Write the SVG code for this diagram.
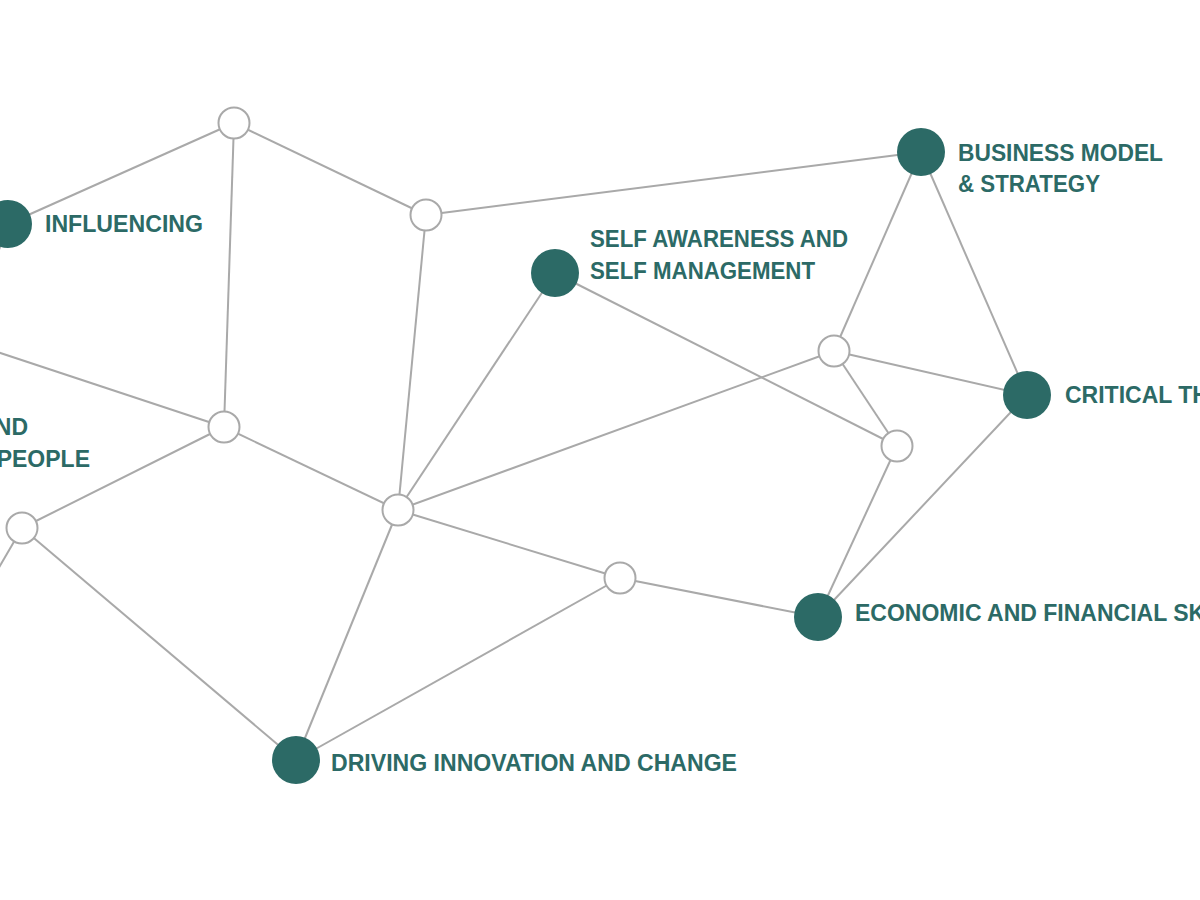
<svg xmlns="http://www.w3.org/2000/svg" width="1200" height="900" viewBox="0 0 1200 900">
<style>
.e{stroke:#a9a9a9;stroke-width:2;fill:none}
.k{fill:#2c6a66}
.h{fill:#ffffff;stroke:#a9a9a9;stroke-width:2}
.t{font-family:"Liberation Sans",Arial,sans-serif;font-weight:700;font-size:23px;fill:#2c6a66}
</style>
<rect width="1200" height="900" fill="#ffffff"/>
<g id="connectors">
<line class="e" x1="8" y1="224" x2="234" y2="123"/>
<line class="e" x1="8" y1="224" x2="-15" y2="290"/>
<line class="e" x1="234" y1="123" x2="224" y2="427"/>
<line class="e" x1="234" y1="123" x2="426" y2="215"/>
<line class="e" x1="426" y1="215" x2="921" y2="152"/>
<line class="e" x1="426" y1="215" x2="398" y2="510"/>
<line class="e" x1="-30" y1="343" x2="224" y2="427"/>
<line class="e" x1="224" y1="427" x2="22" y2="528"/>
<line class="e" x1="224" y1="427" x2="398" y2="510"/>
<line class="e" x1="22" y1="528" x2="-20" y2="600"/>
<line class="e" x1="22" y1="528" x2="296" y2="760"/>
<line class="e" x1="398" y1="510" x2="555" y2="273"/>
<line class="e" x1="398" y1="510" x2="834" y2="351"/>
<line class="e" x1="398" y1="510" x2="620" y2="578"/>
<line class="e" x1="398" y1="510" x2="296" y2="760"/>
<line class="e" x1="620" y1="578" x2="296" y2="760"/>
<line class="e" x1="620" y1="578" x2="818" y2="617"/>
<line class="e" x1="555" y1="273" x2="897" y2="446"/>
<line class="e" x1="834" y1="351" x2="921" y2="152"/>
<line class="e" x1="834" y1="351" x2="1027" y2="395"/>
<line class="e" x1="834" y1="351" x2="897" y2="446"/>
<line class="e" x1="897" y1="446" x2="818" y2="617"/>
<line class="e" x1="921" y1="152" x2="1027" y2="395"/>
<line class="e" x1="1027" y1="395" x2="818" y2="617"/>
</g>
<g id="hub-a"><circle class="h" cx="234" cy="123" r="15.5"/></g>
<g id="hub-b"><circle class="h" cx="426" cy="215" r="15.5"/></g>
<g id="hub-c"><circle class="h" cx="224" cy="427" r="15.5"/></g>
<g id="hub-d"><circle class="h" cx="398" cy="510" r="15.5"/></g>
<g id="hub-e"><circle class="h" cx="22" cy="528" r="15.5"/></g>
<g id="hub-f"><circle class="h" cx="834" cy="351" r="15.5"/></g>
<g id="hub-g"><circle class="h" cx="897" cy="446" r="15.5"/></g>
<g id="hub-h"><circle class="h" cx="620" cy="578" r="15.5"/></g>
<g id="influencing">
<circle class="k" cx="8" cy="224" r="24"/>
<text class="t" x="45" y="232" textLength="158" lengthAdjust="spacingAndGlyphs">INFLUENCING</text>
</g>
<g id="people">
<text class="t" x="28" y="435" text-anchor="end">ND</text>
<text class="t" x="90" y="467" text-anchor="end">PEOPLE</text>
</g>
<g id="business-model">
<circle class="k" cx="921" cy="152" r="24"/>
<text class="t" x="958" y="161" textLength="205" lengthAdjust="spacingAndGlyphs">BUSINESS MODEL</text>
<text class="t" x="958" y="192" textLength="142" lengthAdjust="spacingAndGlyphs">&amp; STRATEGY</text>
</g>
<g id="self-awareness">
<circle class="k" cx="555" cy="273" r="24"/>
<text class="t" x="590" y="247" textLength="258" lengthAdjust="spacingAndGlyphs">SELF AWARENESS AND</text>
<text class="t" x="590" y="279" textLength="225" lengthAdjust="spacingAndGlyphs">SELF MANAGEMENT</text>
</g>
<g id="critical-thinking">
<circle class="k" cx="1027" cy="395" r="24"/>
<text class="t" x="1065" y="403">CRITICAL TH</text>
</g>
<g id="economic">
<circle class="k" cx="818" cy="617" r="24"/>
<text class="t" x="855" y="621">ECONOMIC AND FINANCIAL SK</text>
</g>
<g id="driving-innovation">
<circle class="k" cx="296" cy="760" r="24"/>
<text class="t" x="331" y="771" textLength="406" lengthAdjust="spacingAndGlyphs">DRIVING INNOVATION AND CHANGE</text>
</g>
</svg>
